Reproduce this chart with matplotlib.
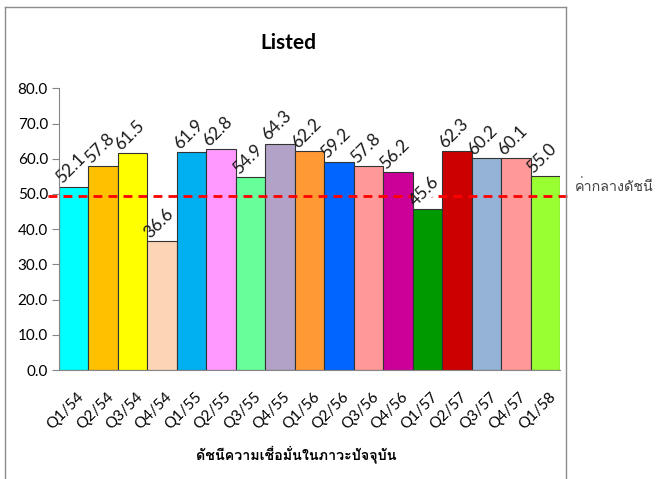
import matplotlib
matplotlib.use("Agg")
import matplotlib.pyplot as plt
from matplotlib import font_manager as fm
from matplotlib.ft2font import FT2Font
from matplotlib.lines import Line2D
from matplotlib.transforms import ScaledTranslation

categories = ["Q1/54", "Q2/54", "Q3/54", "Q4/54", "Q1/55", "Q2/55", "Q3/55", "Q4/55",
              "Q1/56", "Q2/56", "Q3/56", "Q4/56", "Q1/57", "Q2/57", "Q3/57", "Q4/57", "Q1/58"]
values = [52.1, 57.8, 61.5, 36.6, 61.9, 62.8, 54.9, 64.3,
          62.2, 59.2, 57.8, 56.2, 45.6, 62.3, 60.2, 60.1, 55.0]
colors = ["#00FFFF", "#FFC000", "#FFFF00", "#FBD5B5", "#00B0F0", "#FF99FF", "#66FF99", "#B2A2C7",
          "#FF9933", "#0066FF", "#FF9999", "#CC0099", "#009900", "#CC0000", "#95B3D7", "#FF9999", "#99FF33"]
mean_value = 49.5
title = "Listed"
xlabel = "ดัชนีความเชื่อมั่นในภาวะปัจจุบัน"
mean_label = "ค่ากลางดัชนี"
yticks = [0, 10, 20, 30, 40, 50, 60, 70, 80]


def find_thai_font():
    for f in fm.fontManager.ttflist:
        try:
            ft = FT2Font(f.fname)
            cm = ft.get_charmap()
            if 0x0E01 in cm and 0x0E32 in cm and 0x0E0A in cm:
                return f.name
        except Exception:
            continue
    return None


thai = find_thai_font()
base = "Lato"
thai_fam = [thai, "DejaVu Sans"] if thai else ["DejaVu Sans"]

W, H = 659, 479
fig = plt.figure(figsize=(W / 100, H / 100), dpi=100)
ax = fig.add_axes([59 / W, 1 - 370 / H, (560 - 59) / W, (370 - 88.3) / H])

x = list(range(len(categories)))
bars = ax.bar(x, values, width=1.0, color=colors, edgecolor="#333333", linewidth=0.8, zorder=2)

ax.set_xlim(-0.5, len(categories) - 0.5)
ax.set_ylim(0, 80)
ax.set_yticks(yticks)
ax.set_yticklabels([f"{v:.1f}" for v in yticks], fontsize=11, family=base)
ax.set_xticks(x)
ax.set_xticklabels(categories, rotation=45, ha="right", va="top", rotation_mode="anchor",
                   fontsize=11, family=base)
ax.tick_params(axis="x", length=0, pad=14)
ax.tick_params(axis="y", length=5, color="#868686", direction="out", pad=3)
shift = ScaledTranslation(3 / 100, 0, fig.dpi_scale_trans)
for lbl in ax.get_xticklabels():
    lbl.set_transform(lbl.get_transform() + shift)
for s in ["top", "right"]:
    ax.spines[s].set_visible(False)
ax.spines["left"].set_color("#868686")
ax.spines["bottom"].set_color("#868686")

# value labels (visible text on top, white box hidden behind bars)
for xi, v in zip(x, values):
    kw = dict(rotation=45, rotation_mode="anchor", ha="left", va="baseline",
              fontsize=12.5, family=base)
    ax.text(xi - 0.4, v + 0.6, f"{v:.1f}", color="#1a1a1a", zorder=5, **kw)
    ax.text(xi - 0.4, v + 0.6, f"{v:.1f}", color="none", zorder=1.5,
            bbox=dict(facecolor="white", edgecolor="none", pad=1.0), **kw)

# mean line: below label boxes, plus copies clipped to bars so it shows over bars
dash = (0, (3.2, 2.2))
line_kw = dict(color="#FF0000", linestyle=dash, linewidth=2.0)
ax.add_line(Line2D([-0.022, 1.024], [mean_value, mean_value],
                   transform=ax.get_yaxis_transform(), clip_on=False, zorder=1, **line_kw))
for b in bars:
    ln = Line2D([-0.022, 1.024], [mean_value, mean_value],
                transform=ax.get_yaxis_transform(), zorder=3, **line_kw)
    ax.add_line(ln)
    ln.set_clip_path(b)

fig.text(575 / W, 1 - 187 / H, mean_label, ha="left", va="center",
         fontsize=10.3, family=thai_fam, color="#404040")

fig.text(288 / W, 1 - 43 / H, title, ha="center", va="center", fontsize=15,
         fontweight="bold", family=base)

fig.text(296 / W, 1 - 454 / H, xlabel, ha="center", va="center", fontsize=10.3,
         fontweight="bold", family=thai_fam, color="black")

# outer frame
fc = "#8c8c8c"
fig.add_artist(Line2D([5 / W, 5 / W], [-0.01, 1 - 7 / H], transform=fig.transFigure, color=fc, lw=1))
fig.add_artist(Line2D([5 / W, 566 / W], [1 - 7 / H, 1 - 7 / H], transform=fig.transFigure, color=fc, lw=1))
fig.add_artist(Line2D([566 / W, 566 / W], [-0.01, 1 - 7 / H], transform=fig.transFigure, color=fc, lw=1))

fig.savefig("out.png", dpi=100)
